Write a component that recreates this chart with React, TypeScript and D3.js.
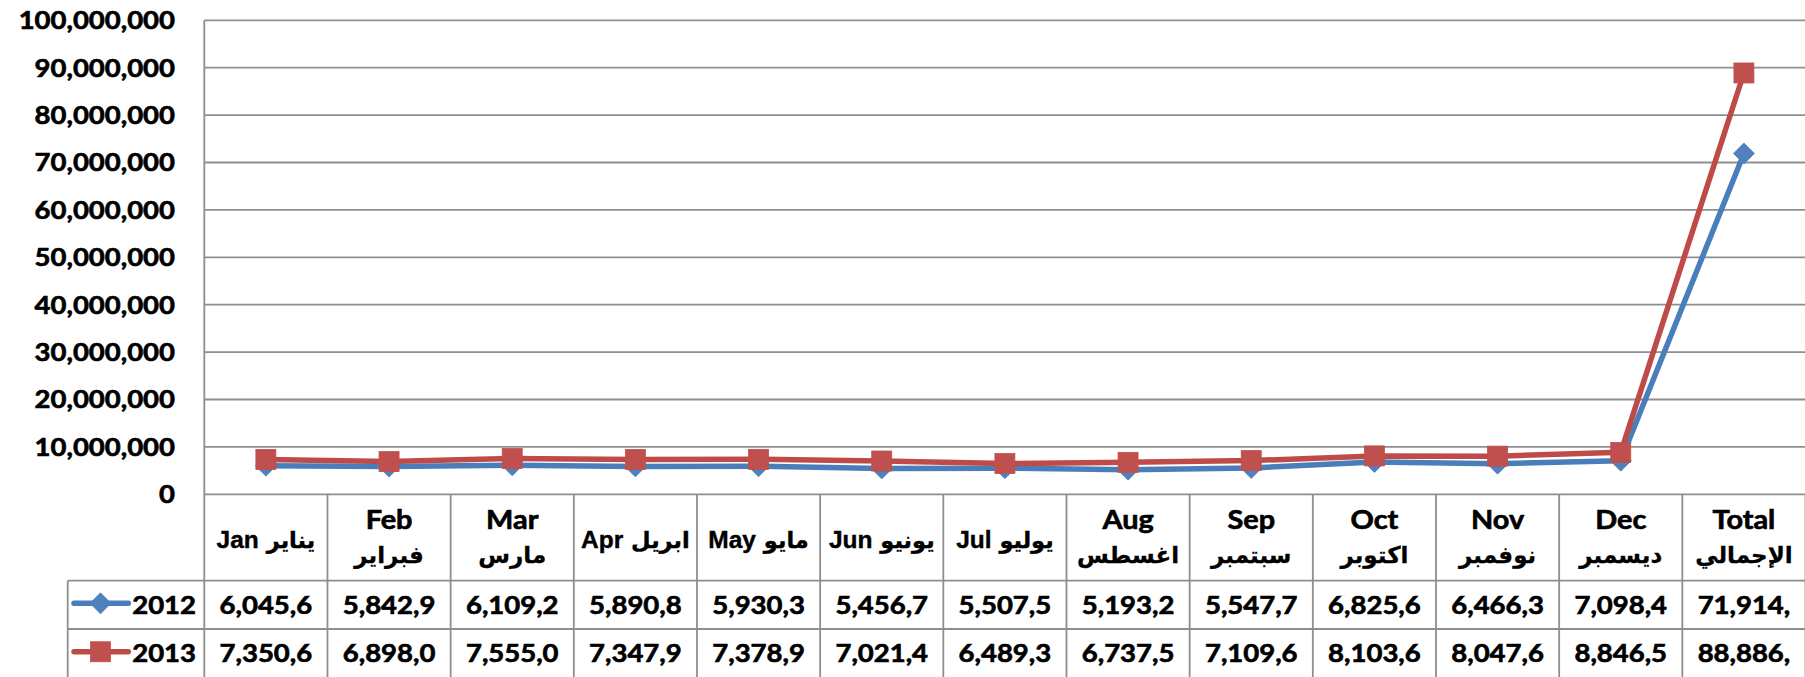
import React from "react";
import * as d3 from "d3";

const categoriesEn = ["Jan", "Feb", "Mar", "Apr", "May", "Jun", "Jul", "Aug", "Sep", "Oct", "Nov", "Dec", "Total"];
const categoriesAr = ["يناير", "فبراير", "مارس", "ابريل", "مايو", "يونيو", "يوليو", "اغسطس", "سبتمبر", "اكتوبر", "نوفمبر", "ديسمبر", "الإجمالي"];
const singleLineHeaders = ["Jan", "Apr", "May", "Jun", "Jul"];
const seriesNames = ["2012", "2013"];
const values2012 = [6045600, 5842900, 6109200, 5890800, 5930300, 5456700, 5507500, 5193200, 5547700, 6825600, 6466300, 7098400, 71914200];
const values2013 = [7350600, 6898000, 7555000, 7347900, 7378900, 7021400, 6489300, 6737500, 7109600, 8103600, 8047600, 8846500, 88886000];
const yTicks = [0, 10000000, 20000000, 30000000, 40000000, 50000000, 60000000, 70000000, 80000000, 90000000, 100000000];

const W = 1805;
const H = 677;
const plotLeft = 204.3;
const plotRight = 1805.5;
const plotTop = 20.3;
const plotBottom = 494.3;
const headerBottom = 580.7;
const row1Bottom = 629;
const row2Bottom = 677.5;
const legendLeft = 67.7;

const gridColor = "#8e8e8e";
const blueLine = "#4A7EBB";
const blueMarker = "#4F81BD";
const redLine = "#BE4B48";
const redMarker = "#C0504D";
const latin = "Lato, 'Open Sans', sans-serif";
const arabic = "'DejaVu Sans', sans-serif";
const numSize = 25;
const numScale = 1.1;
const thick = 0.65;

export default function App() {
  const x = d3.scaleBand<string>().domain(categoriesEn).range([plotLeft, plotRight]).padding(0);
  const bw = x.bandwidth();
  const cx = (i: number) => (x(categoriesEn[i]) as number) + bw / 2;
  const y = d3.scaleLinear().domain([0, 100000000]).range([plotBottom, plotTop]);
  const fmt = d3.format(",");
  const line = d3
    .line<number>()
    .x((_, i) => cx(i))
    .y((d) => y(d));

  const series = [
    { name: seriesNames[0], values: values2012, line: blueLine, marker: blueMarker, shape: "diamond" },
    { name: seriesNames[1], values: values2013, line: redLine, marker: redMarker, shape: "square" },
  ];

  const drawMarker = (shape: string, px: number, py: number, color: string, key: string) => {
    if (shape === "diamond") {
      const r = 10.5;
      return (
        <path
          key={key}
          d={`M${px},${py - r}L${px + r},${py}L${px},${py + r}L${px - r},${py}Z`}
          fill={color}
          stroke={color}
          strokeWidth={0.8}
        />
      );
    }
    const s = 10;
    return <rect key={key} x={px - s} y={py - s} width={2 * s} height={2 * s} fill={color} stroke={color} strokeWidth={0.8} />;
  };

  const rowTops = [headerBottom, row1Bottom];
  const rowBottoms = [row1Bottom, row2Bottom];

  const numProps = {
    fontFamily: latin,
    fontWeight: 700,
    fontSize: numSize,
    fill: "#000",
    stroke: "#000",
    strokeWidth: thick,
  };

  return (
    <svg
      width={W}
      height={H}
      style={{ position: "absolute", left: 0, top: 0, background: "#fff" }}
      xmlns="http://www.w3.org/2000/svg"
    >
      <rect x={0} y={0} width={W} height={H} fill="#fff" />
      {yTicks.map((t) => (
        <line key={"g" + t} x1={plotLeft} x2={plotRight} y1={y(t)} y2={y(t)} stroke={gridColor} strokeWidth={1.8} />
      ))}
      <line x1={plotLeft} x2={plotLeft} y1={plotTop} y2={row2Bottom} stroke={gridColor} strokeWidth={1.8} />
      {categoriesEn.map((c) => (
        <line
          key={"v" + c}
          x1={(x(c) as number) + bw}
          x2={(x(c) as number) + bw}
          y1={plotBottom}
          y2={row2Bottom}
          stroke={gridColor}
          strokeWidth={1.8}
        />
      ))}
      <line x1={legendLeft} x2={plotRight} y1={headerBottom} y2={headerBottom} stroke={gridColor} strokeWidth={1.8} />
      <line x1={legendLeft} x2={plotRight} y1={row1Bottom} y2={row1Bottom} stroke={gridColor} strokeWidth={1.8} />
      <line x1={legendLeft} x2={legendLeft} y1={headerBottom} y2={row2Bottom} stroke={gridColor} strokeWidth={1.8} />

      {yTicks.map((t) => (
        <text key={"yl" + t} transform={`translate(175,${y(t) + 8.8}) scale(${numScale},1)`} textAnchor="end" {...numProps}>
          {fmt(t)}
        </text>
      ))}

      {categoriesEn.map((c, i) => {
        if (singleLineHeaders.includes(c)) {
          return (
            <text key={"h" + c} x={cx(i)} y={547.5} textAnchor="middle" fill="#000" fontWeight={700} stroke="#000" strokeWidth={0.4}>
              <tspan fontFamily="'Liberation Sans', Arial, sans-serif" fontSize={24.5}>
                {c}
              </tspan>
              <tspan fontFamily={arabic} fontSize={22.5}>
                {" " + categoriesAr[i]}
              </tspan>
            </text>
          );
        }
        return (
          <g key={"h" + c}>
            <text
              transform={`translate(${cx(i)},529.3) scale(1.07,1)`}
              textAnchor="middle"
              {...numProps}
              fontSize={27}
            >
              {c}
            </text>
            <text x={cx(i)} y={563} textAnchor="middle" fontFamily={arabic} fontWeight={700} fontSize={23} fill="#000" stroke="#000" strokeWidth={0.3}>
              {categoriesAr[i]}
            </text>
          </g>
        );
      })}

      {series.map((s, si) => {
        const top = rowTops[si];
        const mid = (top + rowBottoms[si]) / 2;
        const baseline = top + 33.2;
        return (
          <g key={"row" + s.name}>
            <line x1={74} x2={128.3} y1={mid - 1.5} y2={mid - 1.5} stroke={s.line} strokeWidth={5.5} strokeLinecap="round" />
            {drawMarker(s.shape, 100.5, mid - 1.5, s.marker, "lm" + s.name)}
            <text transform={`translate(196,${baseline}) scale(${numScale},1)`} textAnchor="end" {...numProps}>
              {s.name}
            </text>
            {s.values.map((v, i) => (
              <text
                key={"c" + i}
                transform={`translate(${cx(i)},${baseline}) scale(${numScale},1)`}
                textAnchor="middle"
                {...numProps}
              >
                {fmt(v).slice(0, 7)}
              </text>
            ))}
          </g>
        );
      })}

      {series.map((s) => (
        <g key={"s" + s.name}>
          <path d={line(s.values) as string} fill="none" stroke={s.line} strokeWidth={5.5} strokeLinejoin="round" strokeLinecap="round" />
          {s.values.map((v, i) => drawMarker(s.shape, cx(i), y(v), s.marker, s.name + "m" + i))}
        </g>
      ))}
    </svg>
  );
}
